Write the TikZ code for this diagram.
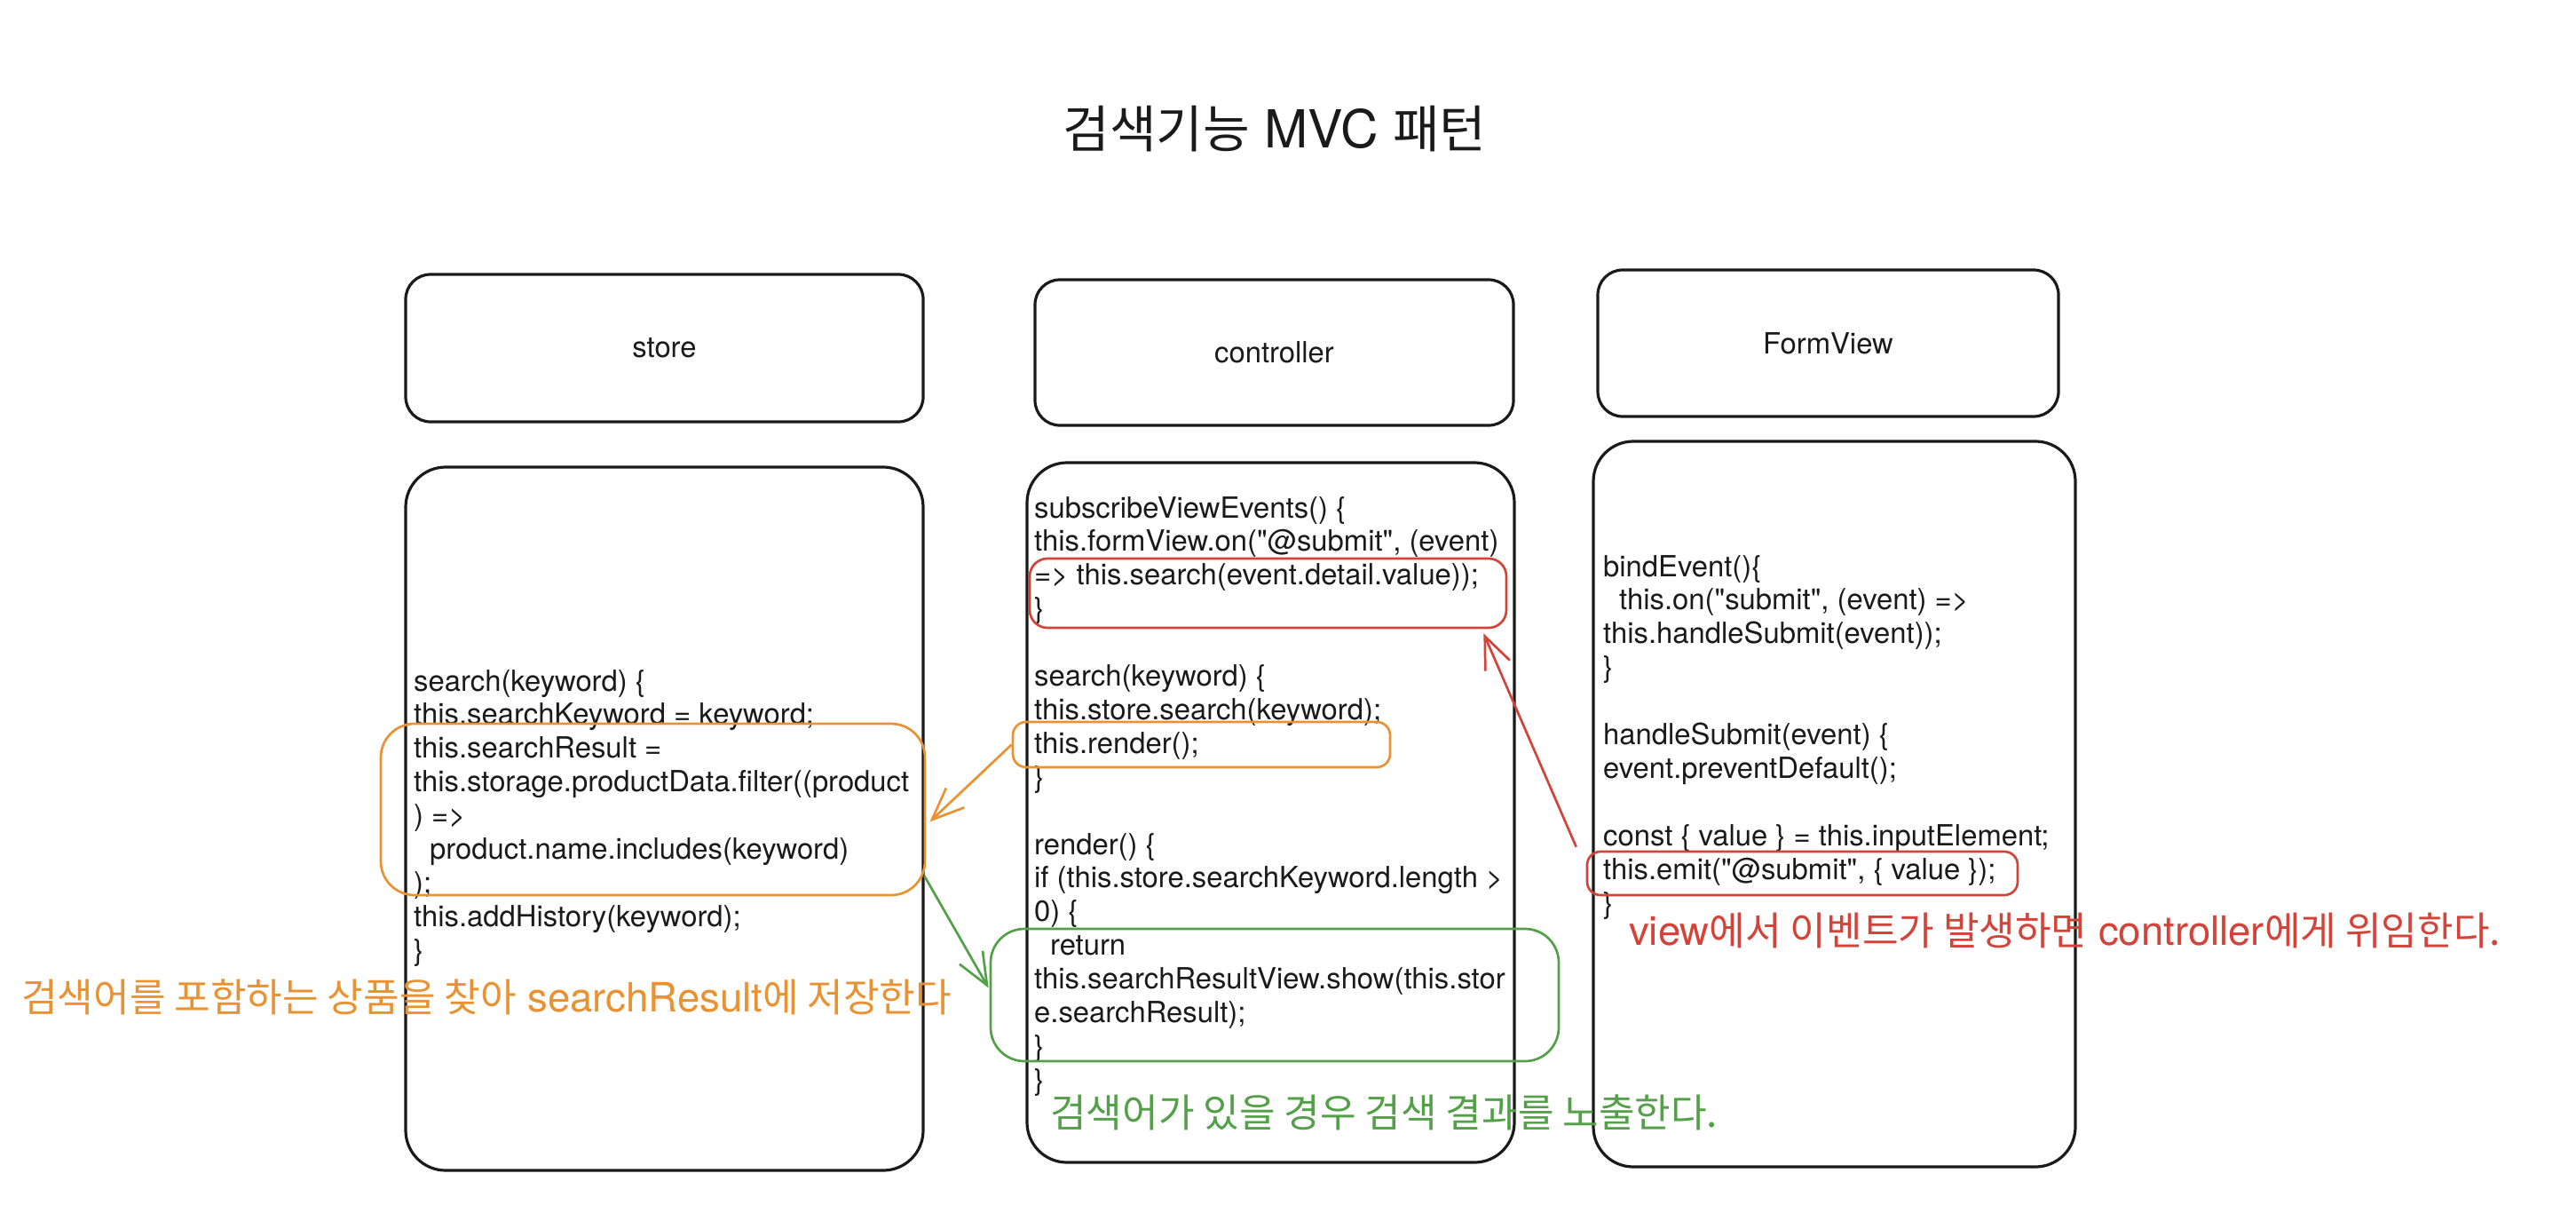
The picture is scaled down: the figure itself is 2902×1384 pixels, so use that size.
\documentclass[tikz,border=0pt]{standalone}
\usepackage{fontspec}
\setmainfont{TeX Gyre Heros}[Ligatures=TeXOff]
\newfontfamily\krfont[Scale=0.97]{Noto Sans CJK KR}
\newcommand{\ko}[1]{{\krfont #1}}
\newcommand{\codefont}{\fontsize{32.8}{37.9}\selectfont}
\newcommand{\notefont}{\fontsize{45.5}{55}\selectfont}
\definecolor{mvcink}{RGB}{26,26,26}
\definecolor{mvcorange}{RGB}{232,146,52}
\definecolor{mvcred}{RGB}{210,68,58}
\definecolor{mvcgreen}{RGB}{83,160,72}
\usetikzlibrary{arrows.meta,positioning,calc}

\begin{document}
\begin{tikzpicture}[x=1pt,y=-1pt,
  mvchead/.style={draw=mvcink,line width=3.2pt,rounded corners=28pt,inner sep=0pt,
    font=\codefont,text=mvcink},
  mvcbody/.style={draw=mvcink,line width=3.2pt,rounded corners=45pt,inner sep=0pt},
  mvccode/.style={anchor=base west,inner sep=0pt,font=\codefont,text=mvcink},
  mvcmark/.style={line width=2.7pt,inner sep=0pt},
  mvcnote/.style={anchor=west,inner sep=0pt,font=\notefont},
  mvcarrow/.style={line width=2.7pt,-{Straight Barb[length=36pt,width=30pt]}}
]
  \useasboundingbox (0,0) rectangle (2902,1384);

  % title
  \node[font=\fontsize{59}{70}\selectfont,text=mvcink] (title) at (1436,145)
    {\ko{검색기능} MVC \ko{패턴}};

  % header boxes
  \node[mvchead,minimum width=583pt,minimum height=166pt] (storehead) at (748.5,392) {store};
  \node[mvchead,minimum width=539pt,minimum height=164pt] (ctrlhead) at (1435.5,397) {controller};
  \node[mvchead,minimum width=519pt,minimum height=165pt] (viewhead) at (2059.5,386.5) {FormView};

  % body boxes
  \node[mvcbody,minimum width=583pt,minimum height=792pt] (storebody) at (748.5,922) {};
  \node[mvcbody,minimum width=549pt,minimum height=788pt] (ctrlbody) at (1431.5,915) {};
  \node[mvcbody,minimum width=543pt,minimum height=817pt] (viewbody) at (2066.5,905.5) {};

  % code
  \node[mvccode] (storecode) at (466,778) {\begin{tabular}[t]{@{}l@{}}
    search(keyword) \{\\
    this.searchKeyword = keyword;\\
    this.searchResult =\\
    this.storage.productData.filter((product\\
    ) =>\\
    \hspace*{18pt}product.name.includes(keyword)\\
    );\\
    this.addHistory(keyword);\\
    \}
  \end{tabular}};
  \node[mvccode] (ctrlcode) at (1165,583) {\begin{tabular}[t]{@{}l@{}}
    subscribeViewEvents() \{\\
    this.formView.on("@submit", (event)\\
    => this.search(event.detail.value));\\
    \}\\
    \\
    search(keyword) \{\\
    this.store.search(keyword);\\
    this.render();\\
    \}\\
    \\
    render() \{\\
    if (this.store.searchKeyword.length >\\
    0) \{\\
    \hspace*{18pt}return\\
    this.searchResultView.show(this.stor\\
    e.searchResult);\\
    \}\\
    \}
  \end{tabular}};
  \node[mvccode] (viewcode) at (1806,649) {\begin{tabular}[t]{@{}l@{}}
    bindEvent()\{\\
    \hspace*{18pt}this.on("submit", (event) =>\\
    this.handleSubmit(event));\\
    \}\\
    \\
    handleSubmit(event) \{\\
    event.preventDefault();\\
    \\
    const \{ value \} = this.inputElement;\\
    this.emit("@submit", \{ value \});\\
    \}
  \end{tabular}};

  % highlight boxes
  \node[mvcmark,draw=mvcorange,rounded corners=38pt,minimum width=613pt,minimum height=193pt]
    (storemark) at (735.5,911.5) {};
  \node[mvcmark,draw=mvcred,rounded corners=20pt,minimum width=537pt,minimum height=78pt]
    (submark) at (1428.5,668) {};
  \node[mvcmark,draw=mvcorange,rounded corners=15pt,minimum width=425pt,minimum height=51pt]
    (rendermark) at (1353.5,838.5) {};
  \node[mvcmark,draw=mvcgreen,rounded corners=38pt,minimum width=640pt,minimum height=149pt]
    (showmark) at (1436,1120.5) {};
  \node[mvcmark,draw=mvcred,rounded corners=15pt,minimum width=485pt,minimum height=49pt]
    (emitmark) at (2030.5,983.5) {};

  % arrows
  \draw[mvcarrow,mvcorange] (rendermark.west) -- ($(storemark.east)+(4,14)$);
  \draw[mvcarrow,mvcgreen] ($(storemark.south east)+(-2,-23)$) -- ($(showmark.west)+(-1,-8)$);
  \draw[mvcarrow,mvcred] ($(emitmark.north west)+(-11,-4)$) -- ($(submark.south east)+(-27,5)$);

  % notes
  \node[mvcnote,text=mvcorange] (storenote) at (24,1123)
    {\ko{검색어를 포함하는 상품을 찾아} searchResult\ko{에 저장한다}};
  \node[mvcnote,text=mvcgreen] (shownote) at (1183,1253)
    {\ko{검색어가 있을 경우 검색 결과를 노출한다.}};
  \node[mvcnote,text=mvcred] (viewnote) at (1835,1048)
    {view\ko{에서 이벤트가 발생하면} controller\ko{에게 위임한다.}};
\end{tikzpicture}
\end{document}
